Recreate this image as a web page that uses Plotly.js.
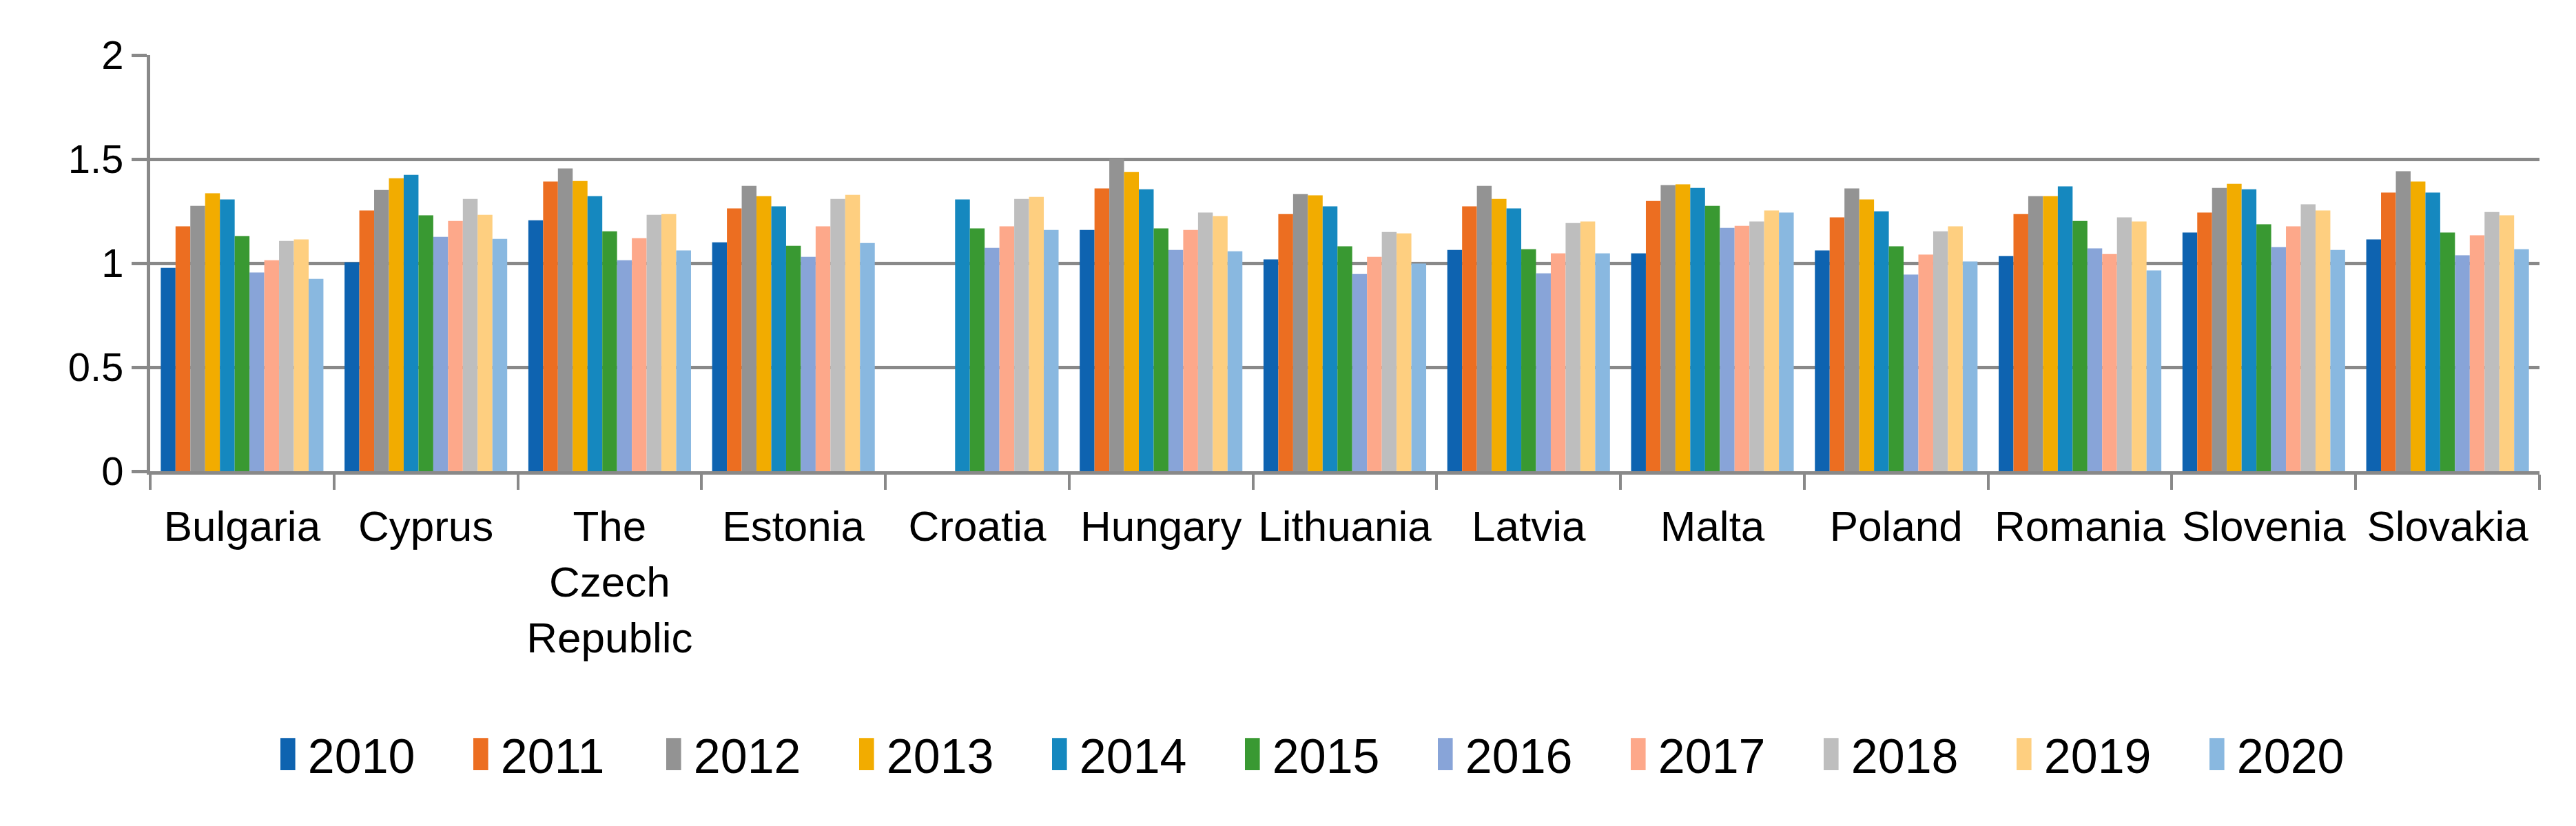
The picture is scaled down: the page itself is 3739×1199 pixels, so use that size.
<!DOCTYPE html>
<html>
<head>
<meta charset="utf-8">
<script src="https://cdn.plot.ly/plotly-3.0.1.min.js"></script>
<style>
html,body{margin:0;padding:0;background:#fff;}
#chart{width:3739px;height:1199px;}
</style>
</head>
<body>
<div id="chart"></div>
<script>
const countries = ["Bulgaria","Cyprus","The<br>Czech<br>Republic","Estonia","Croatia","Hungary","Lithuania","Latvia","Malta","Poland","Romania","Slovenia","Slovakia"];
const years = ["2010","2011","2012","2013","2014","2015","2016","2017","2018","2019","2020"];
const colors = ["#0E63B0","#EC6E21","#939393","#F2AC00","#1588BF","#399932","#88A4D8","#FDA88A","#BEBEBE","#FECF80","#89B8E0"];

const y2010 = [0.978, 1.004, 1.206, 1.100, null, 1.160, 1.018, 1.064, 1.047, 1.061, 1.034, 1.147, 1.114];
const y2011 = [1.177, 1.253, 1.392, 1.263, null, 1.359, 1.236, 1.273, 1.299, 1.220, 1.236, 1.243, 1.339];
const y2012 = [1.276, 1.352, 1.455, 1.372, null, 1.502, 1.332, 1.372, 1.375, 1.359, 1.322, 1.362, 1.442];
const y2013 = [1.336, 1.408, 1.395, 1.322, null, 1.438, 1.326, 1.309, 1.379, 1.306, 1.322, 1.382, 1.392];
const y2014 = [1.306, 1.425, 1.322, 1.273, 1.306, 1.355, 1.273, 1.263, 1.362, 1.249, 1.369, 1.355, 1.339];
const y2015 = [1.130, 1.230, 1.153, 1.084, 1.167, 1.167, 1.081, 1.067, 1.276, 1.081, 1.203, 1.187, 1.147];
const y2016 = [0.955, 1.127, 1.014, 1.031, 1.074, 1.064, 0.948, 0.951, 1.170, 0.945, 1.071, 1.077, 1.038];
const y2017 = [1.014, 1.203, 1.120, 1.177, 1.177, 1.160, 1.031, 1.047, 1.180, 1.041, 1.044, 1.177, 1.134];
const y2018 = [1.107, 1.309, 1.233, 1.309, 1.309, 1.243, 1.150, 1.193, 1.200, 1.153, 1.220, 1.283, 1.246];
const y2019 = [1.114, 1.233, 1.236, 1.329, 1.319, 1.226, 1.143, 1.200, 1.253, 1.177, 1.200, 1.253, 1.230];
const y2020 = [0.925, 1.117, 1.061, 1.097, 1.160, 1.057, 0.998, 1.047, 1.243, 1.008, 0.965, 1.064, 1.067];

const seriesValues = [y2010, y2011, y2012, y2013, y2014, y2015, y2016, y2017, y2018, y2019, y2020];

const FONT = "'Liberation Sans Narrow', 'Liberation Sans', Arial, sans-serif";
const GRID = "#898989";

const traces = years.map((yr, i) => ({
  type: "bar",
  name: yr,
  x: countries,
  y: seriesValues[i],
  marker: {color: colors[i], line: {width: 0}},
  hoverinfo: "none"
}));

const layout = {
  width: 3739,
  height: 1199,
  paper_bgcolor: "#ffffff",
  plot_bgcolor: "#ffffff",
  margin: {l: 218, r: 53, t: 80, b: 515, pad: 0},
  barmode: "group",
  bargap: 0.115,
  bargroupgap: 0,
  font: {family: FONT, size: 62, color: "#000000"},
  showlegend: true,
  legend: {
    orientation: "h",
    x: 0.4985, xanchor: "center",
    y: -0.68, yanchor: "middle",
    font: {family: FONT, size: 70, color: "#000000"},
    itemwidth: 30,
    entrywidth: 235,
    traceorder: "normal",
    bgcolor: "rgba(0,0,0,0)"
  },
  xaxis: {
    type: "category",
    showline: true, linecolor: GRID, linewidth: 5,
    ticks: "outside", tickson: "boundaries", ticklen: 22, tickwidth: 4, tickcolor: GRID,
    showgrid: false,
    tickfont: {family: FONT, size: 62, color: "#000000"},
    ticklabelstandoff: 22,
    tickangle: 0,
    automargin: false
  },
  yaxis: {
    range: [0, 2],
    tickvals: [0, 0.5, 1, 1.5, 2],
    ticktext: ["0", "0.5", "1", "1.5", "2"],
    showline: true, linecolor: GRID, linewidth: 5,
    ticks: "outside", ticklen: 22, tickwidth: 5, tickcolor: GRID,
    showgrid: true, gridcolor: GRID, gridwidth: 5,
    zeroline: false,
    tickfont: {family: FONT, size: 58, color: "#000000"},
    ticklabelstandoff: 0,
    automargin: false
  }
};

Plotly.newPlot("chart", traces, layout, {staticPlot: true, displayModeBar: false}).then(() => {
  document.querySelectorAll(".legend .scrollbox, .legend").forEach(el => {
    el.removeAttribute("clip-path");
  });
  document.querySelectorAll(".legend .legendpoints path").forEach(p => {
    p.setAttribute("transform", "translate(11,0) scale(1.8,3.9)");
  });
});
</script>
</body>
</html>
